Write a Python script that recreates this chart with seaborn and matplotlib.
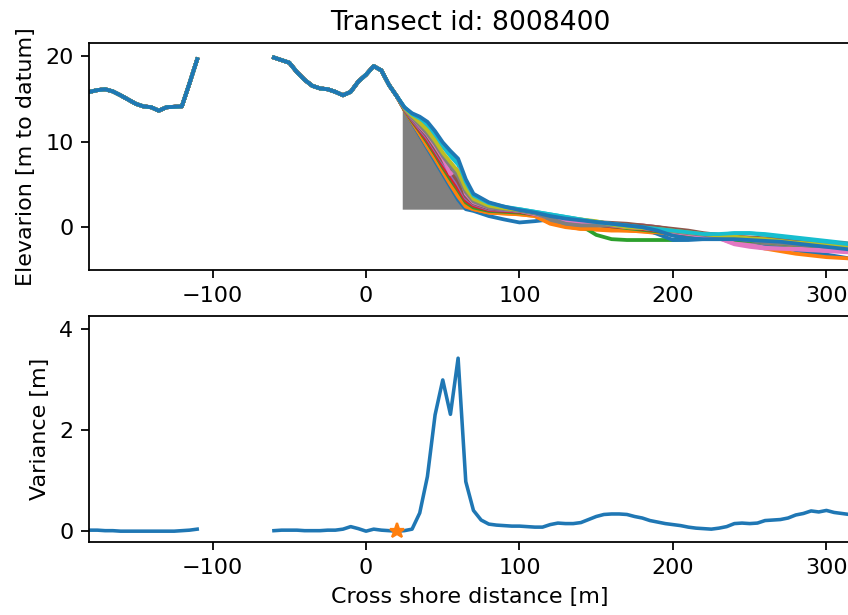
import numpy as np
import pandas as pd
import matplotlib
matplotlib.use("Agg")
import matplotlib.pyplot as plt
import seaborn as sns

# ---------------- data ----------------
title_text = "Transect id: 8008400"

# shared dune part of every profile (5 m grid, gap between -110 and -60)
dune_x_a = list(range(-180, -109, 5))
dune_z_a = [15.8, 16.0, 16.1, 15.85, 15.4, 14.9, 14.4, 14.1, 14.0, 13.6, 14.0, 14.05, 14.1, 16.8, 19.6]
dune_x_b = list(range(-60, 21, 5))
dune_z_b = [19.8, 19.5, 19.2, 18.1, 17.2, 16.5, 16.2, 16.1, 15.8, 15.4, 15.8, 17.0, 17.8, 18.8, 18.3, 16.6, 15.3]

# seaward part, differs per survey year
sea_x = [25, 30, 35, 40, 45, 50, 55, 60, 65, 70] + list(range(80, 321, 10))
p00 = [13.7, 12.2, 10.7, 9.2, 7.7, 6.2, 4.7, 3.2, 2.1, 1.9, 1.3, 0.9, 0.55, 0.7, 0.9, 0.8, 0.6, 0.4, 0.2, 0.0, -0.2, -0.5, -0.8, -1.0, -1.1, -1.3, -1.5, -1.7, -2.0, -2.3, -2.7, -3.0, -3.2, -3.5, -3.8]
p01 = [13.7, 12.3, 10.9, 9.4, 8.0, 6.5, 5.0, 3.6, 2.4, 2.1, 1.7, 1.6, 1.5, 1.3, 0.5, 0.1, -0.2, -0.3, -0.4, -0.4, -0.5, -0.7, -0.9, -1.0, -1.1, -1.3, -1.6, -2.1, -2.5, -2.8, -3.1, -3.3, -3.5, -3.6, -3.7]
p02 = [13.7, 12.4, 11.0, 9.6, 8.2, 6.7, 5.3, 3.9, 2.6, 2.2, 1.8, 1.7, 1.6, 1.5, 1.1, 0.8, 0.2, -0.9, -1.4, -1.5, -1.5, -1.5, -1.5, -1.4, -1.3, -1.3, -1.4, -1.6, -1.8, -2.0, -2.2, -2.4, -2.6, -2.7, -2.8]
p03 = [13.8, 12.4, 11.1, 9.8, 8.4, 6.9, 5.5, 4.2, 2.8, 2.3, 1.9, 1.8, 1.7, 1.5, 1.1, 0.8, 0.5, 0.3, 0.1, -0.1, -0.3, -0.5, -0.7, -0.9, -1.1, -1.3, -1.4, -1.5, -1.7, -1.9, -2.0, -2.2, -2.3, -2.4, -2.5]
p04 = [13.8, 12.5, 11.4, 10.1, 8.8, 7.3, 6.0, 4.6, 3.2, 2.5, 2.0, 1.9, 1.8, 1.6, 1.2, 0.9, 0.7, 0.4, 0.2, 0.0, -0.2, -0.4, -0.6, -0.8, -1.0, -1.2, -1.4, -1.6, -1.7, -1.9, -2.1, -2.3, -2.4, -2.5, -2.6]
p05 = [13.8, 12.6, 11.5, 10.3, 9.0, 7.5, 6.2, 4.9, 3.4, 2.6, 2.1, 2.0, 1.9, 1.6, 1.3, 1.0, 0.7, 0.5, 0.4, 0.3, 0.2, 0.0, -0.3, -0.5, -0.8, -1.0, -1.2, -1.3, -1.4, -1.5, -1.6, -1.7, -1.8, -1.9, -2.0]
p06 = [13.8, 12.7, 11.6, 10.5, 9.2, 7.8, 5.8, 6.1, 3.6, 2.7, 2.2, 2.0, 1.8, 1.4, 1.0, 0.6, 0.6, 0.5, 0.3, 0.2, 0.2, 0.0, -0.4, -0.8, -1.1, -1.3, -2.0, -2.3, -2.5, -2.5, -2.6, -2.7, -2.8, -2.9, -3.0]
p07 = [13.8, 12.7, 11.7, 10.6, 9.3, 7.9, 6.6, 5.4, 3.7, 2.8, 2.2, 2.0, 1.8, 1.4, 0.6, 0.2, 0.1, 0.2, 0.1, 0.0, -0.2, -0.4, -0.6, -0.8, -1.0, -1.2, -1.5, -1.7, -1.9, -2.0, -2.1, -2.2, -2.3, -2.4, -2.5]
p08 = [13.9, 12.8, 11.8, 10.8, 9.5, 8.1, 6.9, 5.7, 3.9, 2.9, 2.3, 2.1, 1.9, 1.6, 1.3, 1.0, 0.7, 0.5, 0.1, -0.1, -0.2, -0.3, -0.5, -0.7, -0.9, -1.0, -1.2, -1.4, -1.5, -1.7, -1.9, -2.0, -2.2, -2.3, -2.5]
p09 = [14.0, 13.1, 12.6, 11.8, 10.7, 9.4, 8.3, 7.3, 5.1, 3.6, 2.7, 2.3, 2.1, 1.8, 1.5, 1.2, 0.9, 0.6, 0.4, 0.2, 0.0, -0.2, -0.4, -0.6, -0.8, -0.9, -0.7, -0.7, -0.8, -1.0, -1.2, -1.4, -1.6, -1.8, -2.0]
p10 = [13.8, 12.5, 11.3, 10.0, 8.6, 7.2, 5.8, 4.5, 3.0, 2.4, 2.0, 1.9, 1.8, 1.6, 1.3, 1.0, 0.8, 0.6, 0.4, 0.2, -0.1, -0.8, -1.5, -1.5, -1.4, -1.4, -1.4, -1.5, -1.6, -1.8, -2.0, -2.2, -2.4, -2.6, -2.8]
p11 = [13.7, 12.3, 10.9, 9.5, 8.1, 6.6, 5.1, 3.7, 2.5, 2.1, 1.7, 1.6, 1.5, 1.3, 0.4, 0.0, -0.2, -0.2, -0.3, -0.4, -0.5, -0.6, -0.8, -1.0, -1.1, -1.2, -1.3, -1.5, -1.7, -1.9, -2.1, -2.3, -2.5, -2.7, -2.9]
p12 = [13.8, 12.4, 11.2, 9.9, 8.5, 7.0, 5.6, 4.3, 2.9, 2.3, 1.9, 1.8, 1.7, 1.5, 1.2, 0.9, 0.6, 0.3, 0.1, -0.1, -0.3, -0.5, -0.7, -0.9, -1.1, -1.3, -1.5, -1.6, -1.7, -1.9, -2.1, -2.3, -2.5, -2.6, -2.7]
p13 = [13.8, 12.5, 11.3, 10.1, 8.7, 7.2, 5.9, 4.5, 3.1, 2.5, 2.0, 1.9, 1.8, 1.5, 1.2, 0.9, 0.6, 0.3, 0.1, 0.0, -0.2, -0.4, -0.6, -0.8, -1.0, -1.2, -1.3, -1.4, -1.6, -1.8, -1.9, -2.1, -2.2, -2.3, -2.4]
p14 = [13.8, 12.6, 11.5, 10.4, 9.0, 7.6, 6.3, 5.0, 3.4, 2.7, 2.1, 2.0, 1.9, 1.7, 1.3, 1.0, 0.8, 0.5, 0.3, 0.1, -0.1, -0.3, -0.5, -0.7, -0.9, -1.1, -1.3, -1.5, -1.7, -1.8, -2.0, -2.1, -2.3, -2.4, -2.5]
p15 = [13.8, 12.7, 11.7, 10.6, 9.2, 7.8, 6.6, 5.3, 3.6, 2.8, 2.2, 2.1, 2.0, 1.7, 1.4, 1.1, 0.8, 0.6, 0.5, 0.4, 0.2, 0.0, -0.2, -0.4, -0.7, -0.9, -1.1, -1.2, -1.3, -1.4, -1.5, -1.6, -1.8, -1.9, -2.0]
p16 = [13.9, 12.8, 11.8, 10.8, 9.5, 8.1, 6.2, 6.8, 3.9, 2.9, 2.3, 2.1, 1.9, 1.5, 1.1, 0.8, 0.6, 0.4, 0.2, 0.0, -0.1, -0.3, -0.6, -0.8, -1.1, -1.3, -1.9, -2.1, -2.4, -2.5, -2.5, -2.6, -2.7, -2.8, -2.9]
p17 = [13.9, 12.8, 11.9, 10.9, 9.7, 8.3, 7.1, 5.9, 4.1, 3.0, 2.3, 2.1, 1.9, 1.6, 1.0, 0.4, 0.2, 0.2, 0.2, 0.1, -0.1, -0.3, -0.5, -0.7, -0.9, -1.1, -1.3, -1.5, -1.7, -1.9, -2.0, -2.1, -2.2, -2.3, -2.4]
p18 = [13.9, 13.0, 12.2, 11.3, 10.1, 8.7, 7.6, 6.5, 4.5, 3.3, 2.5, 2.2, 2.0, 1.7, 1.4, 1.1, 0.9, 0.7, 0.3, 0.0, -0.1, -0.2, -0.4, -0.6, -0.8, -1.0, -1.1, -1.3, -1.4, -1.6, -1.8, -1.9, -2.1, -2.2, -2.4]
p19 = [14.0, 13.2, 12.7, 12.1, 10.9, 9.6, 8.6, 7.6, 5.3, 3.7, 2.8, 2.4, 2.1, 1.8, 1.5, 1.2, 0.9, 0.6, 0.4, 0.2, 0.0, -0.2, -0.4, -0.6, -0.8, -0.8, -0.7, -0.7, -0.9, -1.1, -1.3, -1.5, -1.7, -1.9, -2.1]
p20 = [14.0, 13.3, 12.9, 12.3, 11.2, 9.9, 8.9, 8.0, 5.6, 3.9, 2.9, 2.4, 2.0, 1.7, 1.3, 1.0, 0.8, 0.6, 0.4, 0.2, 0.0, -0.4, -1.0, -1.3, -1.4, -1.4, -1.4, -1.5, -1.6, -1.7, -1.9, -2.1, -2.3, -2.5, -2.7]
profiles = [p00, p01, p02, p03, p04, p05, p06, p07, p08, p09, p10,
            p11, p12, p13, p14, p15, p16, p17, p18, p19, p20]

# grey wedge (dune-foot area)
wedge_x = [23.6, 25, 30, 35, 40, 45, 50, 55, 60, 65]
wedge_top = [14.1, 13.7, 12.2, 10.7, 9.2, 7.7, 6.2, 4.7, 3.2, 2.1]
wedge_base = 2.1

# variance per cross-shore position
var_x_a = list(range(-180, -109, 5))
var_a = [0.02, 0.02, 0.01, 0.01, 0.0, 0.0, 0.0, 0.0, 0.0, 0.0, 0.0, 0.0, 0.01, 0.02, 0.04]
var_x_b = list(range(-60, 321, 5))
var_b = [0.01, 0.02, 0.02, 0.02, 0.01, 0.01, 0.01, 0.02, 0.02, 0.04, 0.09, 0.05, 0.0, 0.04, 0.02,
         0.01, 0.0, 0.01, 0.04, 0.36, 1.08, 2.3, 2.99, 2.31, 3.42, 0.98, 0.41, 0.22, 0.14, 0.12,
         0.11, 0.10, 0.10, 0.09, 0.08, 0.08, 0.13, 0.16, 0.15, 0.15, 0.17, 0.23, 0.29, 0.33, 0.34,
         0.34, 0.33, 0.29, 0.26, 0.21, 0.18, 0.15, 0.13, 0.11, 0.08, 0.06, 0.05, 0.04, 0.06, 0.09,
         0.15, 0.16, 0.15, 0.16, 0.21, 0.22, 0.23, 0.26, 0.32, 0.35, 0.40, 0.38, 0.41, 0.37, 0.35,
         0.33, 0.30]
star_x = [20]
star_y = [0.0]

# ---------------- build tables ----------------
rows = []
for i, sea in enumerate(profiles):
    year = f"y{i:02d}"
    for x, z in zip(dune_x_a, dune_z_a):
        rows.append((year, f"{year}a", x, z))
    for x, z in zip(dune_x_b + sea_x, dune_z_b + sea):
        rows.append((year, f"{year}b", x, z))
prof_df = pd.DataFrame(rows, columns=["year", "unit", "x", "z"])
years = [f"y{i:02d}" for i in range(len(profiles))]
tab10 = sns.color_palette("tab10")
pal = [tab10[i % 10] for i in range(len(profiles))]

var_df = pd.DataFrame({
    "x": var_x_a + var_x_b,
    "v": var_a + var_b,
    "seg": ["a"] * len(var_x_a) + ["b"] * len(var_x_b),
})

# ---------------- figure ----------------
DPI = 160
fig = plt.figure(figsize=(848 / DPI, 615 / DPI), dpi=DPI)
ax1 = fig.add_axes([89 / 848, 1 - 270 / 615, 762 / 848, 227 / 615])
ax2 = fig.add_axes([89 / 848, 1 - 542.3 / 615, 762 / 848, 226.6 / 615])

ax1.fill_between(wedge_x, wedge_top, wedge_base, color="grey", lw=0, zorder=1)
sns.lineplot(data=prof_df, x="x", y="z", hue="year", hue_order=years, palette=pal,
             units="unit", estimator=None, legend=False, lw=1.7, ax=ax1, zorder=2)
ax1.set_xlim(-180.5, 316)
ax1.set_ylim(-5.0, 21.5)
ax1.set_yticks([0, 10, 20])
ax1.set_xticks([-100, 0, 100, 200, 300])
ax1.set_xlabel("")
ax1.set_ylabel("Elevarion [m to datum]")
ax1.set_title(title_text)

sns.lineplot(data=var_df, x="x", y="v", units="seg", estimator=None, color=tab10[0],
             lw=1.6, legend=False, ax=ax2)
ax2.plot(star_x, star_y, "*", color=tab10[1], markersize=7, zorder=3)
ax2.set_xlim(-180.5, 316)
ax2.set_ylim(-0.22, 4.26)
ax2.set_yticks([0, 2, 4])
ax2.set_xticks([-100, 0, 100, 200, 300])
ax2.set_xlabel("Cross shore distance [m]")
ax2.set_ylabel("Variance [m]")

fig.savefig("out.png", dpi=DPI)
